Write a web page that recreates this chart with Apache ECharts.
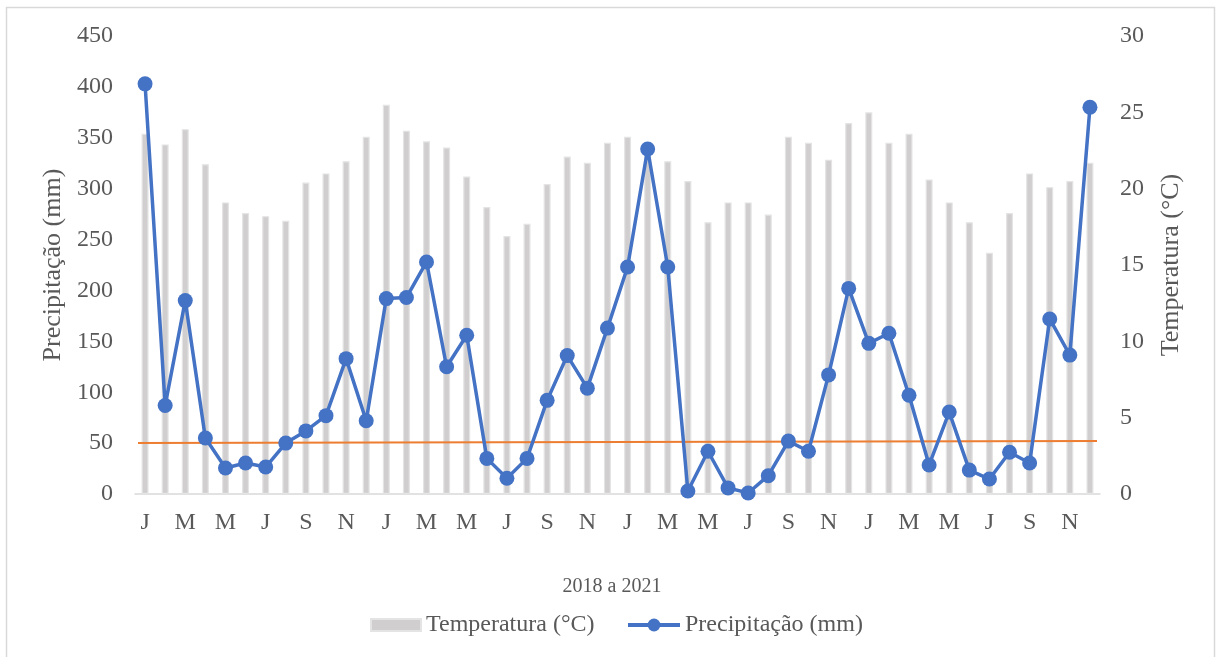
<!DOCTYPE html>
<html>
<head>
<meta charset="utf-8">
<script src="https://cdn.jsdelivr.net/npm/echarts@6/dist/echarts.min.js"></script>
<style>
  html, body { margin: 0; padding: 0; background: #ffffff; }
  #chart { width: 1216px; height: 657px; }
</style>
</head>
<body>
<div id="chart"></div>
<script>
// Monthly series, January 2018 to December 2021
const months = ['J','F','M','A','M','J','J','A','S','O','N','D'];
const categories = [];
for (let y = 0; y < 4; y++) months.forEach(m => categories.push(m));

// Precipitação mensal (mm)
const precip2018 = [403, 87, 190, 55, 25.5, 30.5, 26.5, 50, 62, 77, 133, 72];
const precip2019 = [192, 193, 228, 125, 156, 35, 15.5, 35, 92, 136, 104, 163];
const precip2020 = [223, 339, 223, 3, 42, 6, 1, 18, 52, 42, 117, 202];
const precip2021 = [148, 158, 97, 28.5, 80.5, 23.5, 14.7, 41, 30.5, 172, 136.5, 380];

// Temperatura média mensal (°C)
const temp2018 = [23.6, 22.9, 23.9, 21.6, 19.1, 18.4, 18.2, 17.9, 20.4, 21.0, 21.8, 23.4];
const temp2019 = [25.5, 23.8, 23.1, 22.7, 20.8, 18.8, 16.9, 17.7, 20.3, 22.1, 21.7, 23.0];
const temp2020 = [23.4, 22.6, 21.8, 20.5, 17.8, 19.1, 19.1, 18.3, 23.4, 23.0, 21.9, 24.3];
const temp2021 = [25.0, 23.0, 23.6, 20.6, 19.1, 17.8, 15.8, 18.4, 21.0, 20.1, 20.5, 21.7];

// Linear trend of precipitation (start and end of the period)
const trendX = [-0.35, 47.35];
const trendY = [50.2, 52.1];

const precipitation = [].concat(precip2018, precip2019, precip2020, precip2021);
const temperature = [].concat(temp2018, temp2019, temp2020, temp2021);
const trend = trendX.map((x, i) => [x, trendY[i]]);

const FONT = '"Liberation Serif", "Times New Roman", serif';
const TXT = '#595959';
const BLUE = '#4472C4';

const chart = echarts.init(document.getElementById('chart'), null, { renderer: 'canvas' });
chart.setOption({
  animation: false,
  backgroundColor: '#ffffff',
  textStyle: { fontFamily: FONT, color: TXT },
  graphic: [{
    type: 'rect',
    shape: { x: 6.5, y: 7.5, width: 1208, height: 660 },
    style: { fill: 'none', stroke: '#d9d9d9', lineWidth: 1.5 },
    silent: true, z: -10
  }],
  title: {
    text: '2018 a 2021',
    left: 607,
    top: 572,
    textAlign: 'center',
    textStyle: { fontFamily: FONT, fontSize: 20, fontWeight: 'normal', color: TXT }
  },
  grid: { left: 135, right: 116, top: 36, bottom: 163 },
  legend: [{
    left: 365,
    top: 608,
    itemWidth: 50,
    itemHeight: 12,
    textStyle: { fontFamily: FONT, fontSize: 24, color: TXT },
    data: [{ name: 'Temperatura (°C)', icon: 'rect' }]
  }, {
    left: 621,
    top: 608,
    itemWidth: 52,
    itemHeight: 16,
    lineStyle: { width: 4 },
    textStyle: { fontFamily: FONT, fontSize: 24, color: TXT },
    data: [{ name: 'Precipitação (mm)' }]
  }],
  xAxis: [{
    type: 'category',
    data: categories,
    boundaryGap: true,
    axisLine: { lineStyle: { color: '#d9d9d9', width: 1.5 } },
    axisTick: { show: false },
    axisLabel: { interval: 1, fontFamily: FONT, fontSize: 24, color: TXT, margin: 17 }
  }, {
    type: 'value',
    min: -0.5,
    max: 47.5,
    show: false
  }],
  yAxis: [{
    type: 'value',
    min: 0, max: 450, interval: 50,
    splitLine: { show: false },
    axisLine: { show: false },
    axisTick: { show: false },
    axisLabel: { fontFamily: FONT, fontSize: 24, color: TXT, margin: 22 },
    name: 'Precipitação (mm)',
    nameLocation: 'middle',
    nameGap: 55,
    nameTextStyle: { fontFamily: FONT, fontSize: 26, color: TXT }
  }, {
    type: 'value',
    min: 0, max: 30, interval: 5,
    splitLine: { show: false },
    axisLine: { show: false },
    axisTick: { show: false },
    axisLabel: { fontFamily: FONT, fontSize: 24, color: TXT, margin: 20 },
    name: 'Temperatura (°C)',
    nameLocation: 'middle',
    nameGap: 58,
    nameRotate: 90,
    nameTextStyle: { fontFamily: FONT, fontSize: 26, color: TXT }
  }],
  series: [{
    name: 'Temperatura (°C)',
    type: 'bar',
    yAxisIndex: 1,
    data: temperature,
    barWidth: 7,
    itemStyle: { color: '#d0cece', borderColor: '#e4e4e4', borderWidth: 1.2 },
    z: 1
  }, {
    name: 'tendência',
    type: 'line',
    xAxisIndex: 1,
    yAxisIndex: 0,
    data: trend,
    symbol: 'none',
    lineStyle: { color: '#ED7D31', width: 2 },
    z: 2,
    silent: true
  }, {
    name: 'Precipitação (mm)',
    type: 'line',
    yAxisIndex: 0,
    data: precipitation,
    symbol: 'circle',
    symbolSize: 15,
    showAllSymbol: true,
    itemStyle: { color: BLUE },
    lineStyle: { color: BLUE, width: 3.5 },
    z: 3
  }]
});
</script>
</body>
</html>
